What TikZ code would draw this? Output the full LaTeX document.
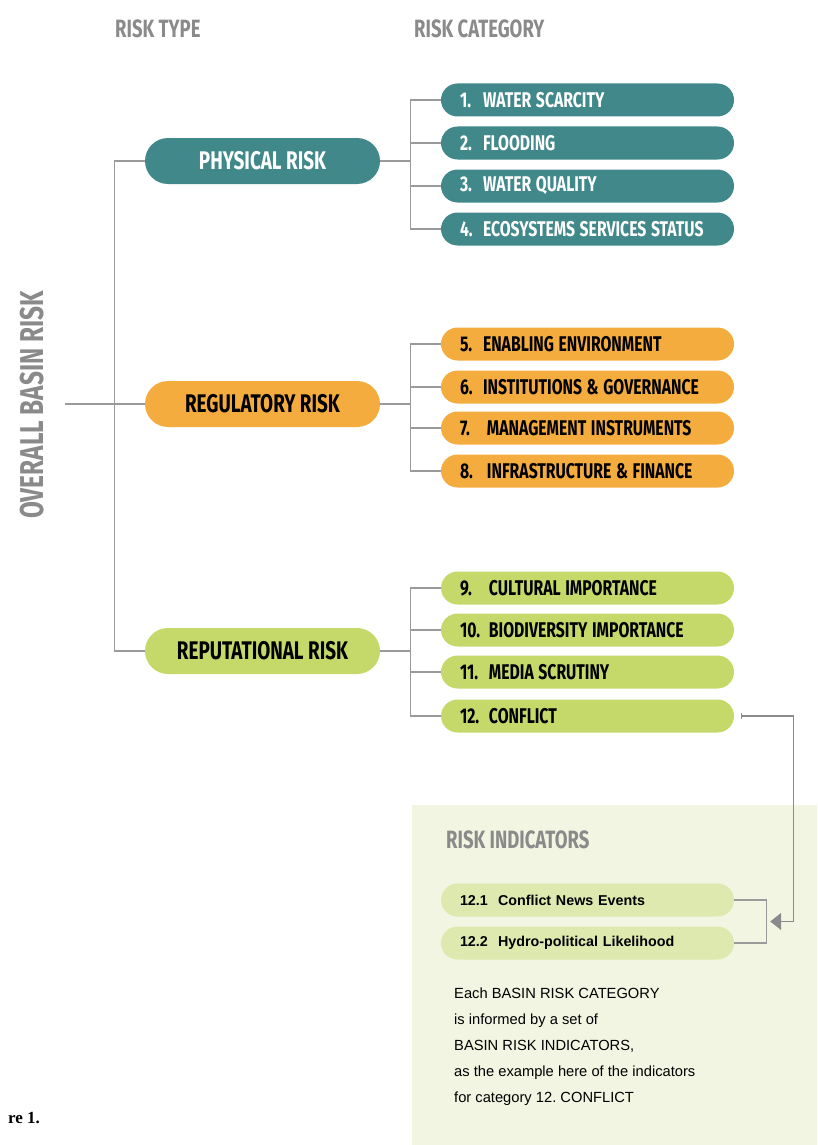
\documentclass[tikz,border=0pt]{standalone}
\usepackage{fontspec}
\setmainfont{Liberation Sans}
\newfontfamily\cf[FakeStretch=0.74]{Fira Sans}
\newfontfamily\ser{Liberation Serif}
\usetikzlibrary{arrows.meta,calc}
\definecolor{tealc}{HTML}{40888A}
\definecolor{orangec}{HTML}{F5AC3F}
\definecolor{greenc}{HTML}{C5D96B}
\definecolor{lightg}{HTML}{DEE9AF}
\definecolor{panelc}{HTML}{F2F5E2}
\definecolor{headg}{HTML}{8A8A8A}
\definecolor{lineg}{HTML}{9A9A9A}
\newcommand\cnum[2][23pt]{\makebox[#1][l]{#2}}
\begin{document}
\begin{tikzpicture}[x=1pt,y=-1pt,
  conn/.style={draw=lineg,line width=1.2pt},
  head/.style={text=headg,inner sep=0pt,font=\cf\bfseries\fontsize{25}{25}\selectfont},
  typepill/.style={rounded corners=23pt,minimum width=235pt,minimum height=46pt,inner sep=0pt,
    font=\cf\bfseries\fontsize{25.5}{25.5}\selectfont},
  catpill/.style={rounded corners=16.5pt,minimum height=33pt,text width=255pt,inner xsep=19pt,
    inner ysep=0pt,align=left,font=\cf\bfseries\fontsize{21.3}{21}\selectfont,
    execute at begin node={\spaceskip=4.6pt\relax}},
  indpill/.style={rounded corners=16.5pt,minimum height=33pt,text width=255pt,inner xsep=19pt,
    inner ysep=0pt,align=left,fill=lightg,font=\bfseries\fontsize{14.3}{15}\selectfont},
  tealp/.style={fill=tealc,text=white},
  orangep/.style={fill=orangec,text=black},
  greenp/.style={fill=greenc,text=black}]
\useasboundingbox (0,0) rectangle (817,1145);
\fill[panelc] (412,805) rectangle (817,1145);

% headers
\node[head,anchor=west] (hType) at (115,29) {RISK TYPE};
\node[head,anchor=west] (hCat) at (414,29) {RISK CATEGORY};
\node[head,rotate=90,font=\cf\bfseries\fontsize{33}{33}\selectfont] (overall) at (32,405) {OVERALL BASIN RISK};
\coordinate (root) at (65,404);

% type pills
\node[typepill,tealp] (phys) at (262.5,161) {PHYSICAL RISK};
\node[typepill,orangep] (reg) at (262.5,404) {REGULATORY RISK};
\node[typepill,greenp] (rep) at (262.5,651) {REPUTATIONAL RISK};

% category pills
\node[catpill,tealp] (c1) at (587.5,100) {\cnum{1.}WATER SCARCITY};
\node[catpill,tealp] (c2) at (587.5,143) {\cnum{2.}FLOODING};
\node[catpill,tealp] (c3) at (587.5,186) {\cnum{3.}WATER QUALITY};
\node[catpill,tealp] (c4) at (587.5,229) {\cnum{4.}ECOSYSTEMS SERVICES STATUS};
\node[catpill,orangep] (c5) at (587.5,344) {\cnum{5.}ENABLING ENVIRONMENT};
\node[catpill,orangep] (c6) at (587.5,387) {\cnum{6.}INSTITUTIONS \& GOVERNANCE};
\node[catpill,orangep] (c7) at (587.5,428) {\cnum[27pt]{7.}MANAGEMENT INSTRUMENTS};
\node[catpill,orangep] (c8) at (587.5,471) {\cnum[27pt]{8.}INFRASTRUCTURE \& FINANCE};
\node[catpill,greenp] (c9) at (587.5,588) {\cnum[29pt]{9.}CULTURAL IMPORTANCE};
\node[catpill,greenp] (c10) at (587.5,630) {\cnum[29pt]{10.}BIODIVERSITY IMPORTANCE};
\node[catpill,greenp] (c11) at (587.5,672) {\cnum[29pt]{11.}MEDIA SCRUTINY};
\node[catpill,greenp] (c12) at (587.5,716) {\cnum[29pt]{12.}CONFLICT};

% tree connectors
\draw[conn] (root) -- (reg.west);
\draw[conn] (phys.west) -- ++(-30,0) |- (rep.west);
\draw[conn] (phys.east) -- ++(31,0);
\draw[conn] (reg.east) -- ++(31,0);
\draw[conn] (rep.east) -- ++(31,0);
\draw[conn] (c1.west) -- ++(-30,0) |- (c4.west);
\draw[conn] (c2.west) -- ++(-30,0);
\draw[conn] (c3.west) -- ++(-30,0);
\draw[conn] (c5.west) -- ++(-30,0) |- (c8.west);
\draw[conn] (c6.west) -- ++(-30,0);
\draw[conn] (c7.west) -- ++(-30,0);
\draw[conn] (c9.west) -- ++(-30,0) |- (c12.west);
\draw[conn] (c10.west) -- ++(-30,0);
\draw[conn] (c11.west) -- ++(-30,0);

% indicators panel
\node[head,anchor=west] (hInd) at (446,840) {RISK INDICATORS};
\node[indpill] (i1) at (587.5,900) {\makebox[38pt][l]{12.1}Conflict News Events};
\node[indpill] (i2) at (587.5,943) {\makebox[38pt][l]{12.2}Hydro-political Likelihood};
\draw[conn] (i1.east) -- ++(32,0) |- (i2.east);
\coordinate (tip) at ($($(i1.east)!0.5!(i2.east)$)+(36,0)$);
\draw[draw=headg,line width=1.2pt,{Bar[width=6pt]}-{Triangle[length=11pt,width=17pt]}]
  ([xshift=7pt]c12.east) -- ++(52,0) |- (tip);

\node[anchor=north west,align=left,inner sep=0pt,
  font=\fontsize{14.7}{26}\selectfont,
  execute at begin node={\spaceskip=4.1pt\xspaceskip=4.1pt\relax}] (note) at (454,988)
  {Each BASIN RISK CATEGORY\\is informed by a set of\\BASIN RISK INDICATORS,\\as the example here of the indicators\\for category 12. CONFLICT};

\node[anchor=east,inner sep=0pt,font=\ser\bfseries\fontsize{17}{17}\selectfont] (fig) at (40,1118) {re 1.};
\end{tikzpicture}
\end{document}
